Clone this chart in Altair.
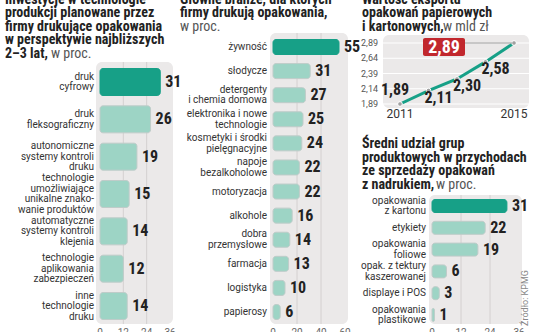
import altair as alt
import pandas as pd

FONT = "Liberation Sans Narrow, Roboto Condensed, Arial Narrow, sans-serif"
LFONT = "Roboto, Noto Sans, sans-serif"
DARK = "#17a087"
LIGHT = "#9dd4c5"
BG = "#ebe9e9"
GRID = "#d4d0d0"
TXT = "#222222"

# ---------------- data ----------------
p1_labels = [
    "druk\ncyfrowy",
    "druk\nfleksograficzny",
    "autonomiczne\nsystemy kontroli\ndruku",
    "technologie\numożliwiające\nunikalne znako-\nwanie produktów",
    "automatyczne\nsystemy kontroli\nklejenia",
    "technologie\naplikowania\nzabezpieczeń",
    "inne\ntechnologie\ndruku",
]
p1_values = [31, 26, 19, 15, 14, 12, 14]
p1_ticks = [0, 12, 24, 36]

p2_labels = [
    "żywność", "słodycze", "detergenty\ni chemia domowa", "elektronika i nowe\ntechnologie",
    "kosmetyki i środki\npielęgnacyjne", "napoje\nbezalkoholowe", "motoryzacja", "alkohole",
    "dobra\nprzemysłowe", "farmacja", "logistyka", "papierosy",
]
p2_values = [55, 31, 27, 25, 24, 22, 22, 16, 14, 13, 10, 6]
p2_ticks = [0, 20, 40, 60]

years = [2011, 2012, 2013, 2014, 2015]
export = [1.89, 2.11, 2.30, 2.58, 2.89]
export_ticks = [1.89, 2.14, 2.39, 2.64, 2.89]
year_labels = [2011, 2015]

p4_labels = [
    "opakowania\nz kartonu", "etykiety", "opakowania\nfoliowe",
    "opak. z tektury\nkaszerowanej", "displaye i POS", "opakowania\nplastikowe",
]
p4_values = [31, 22, 19, 6, 3, 1]
p4_ticks = [0, 12, 24, 36]

title1 = "Inwestycje w technologie\nprodukcji planowane przez\nfirmy drukujące opakowania\nw perspektywie najbliższych\n2–3 lat,"
title2 = "Główne branże, dla których\nfirmy drukują opakowania,"
title3 = "Wartość eksportu\nopakowań papierowych\ni kartonowych,"
title4 = "Średni udział grup\nproduktowych w przychodach\nze sprzedaży opakowań\nz nadrukiem,"
source = "Źródło: KPMG"


def fmt(v):
    return f"{v:.2f}".replace(".", ",")


def one(text):
    return pd.DataFrame({"t": [text]})


def box(l, r, t, b, fill=BG, radius=6):
    return alt.Chart(one("")).mark_rect(fill=fill, cornerRadius=radius).encode(
        x=alt.value(l), x2=alt.value(r), y=alt.value(t), y2=alt.value(b)
    )


def text_at(text, x, y, **kw):
    base = dict(font=FONT, align="left", baseline="alphabetic", color=TXT, lineBreak="\n")
    base.update(kw)
    return alt.Chart(one(text)).mark_text(**base).encode(
        x=alt.value(x), y=alt.value(y), text="t:N"
    )


LAB_LH = 10.5


def bar_panel(labels, values, ticks, xrange, yrange, bar_px, label_x, bg, tick_y):
    n = len(values)
    df = pd.DataFrame({"label": labels, "value": values, "idx": list(range(n))})
    spacing = (yrange[1] - yrange[0]) / (n - 1)
    h = bar_px / 2 / spacing
    lh = LAB_LH / spacing
    xs = alt.Scale(domain=[ticks[0], ticks[-1]], range=xrange, nice=False, zero=False)
    ys = alt.Scale(domain=[0, n - 1], range=yrange, nice=False, zero=False)
    tdf = pd.DataFrame({"t": ticks})
    layers = [box(*bg)]
    layers.append(
        alt.Chart(tdf[1:-1]).mark_rule(color=GRID, strokeWidth=1).encode(
            x=alt.X("t:Q", scale=xs, axis=None), y=alt.value(bg[2]), y2=alt.value(bg[3])
        )
    )
    layers.append(
        alt.Chart(df).transform_calculate(
            y0=f"datum.idx - {h}", y1=f"datum.idx + {h}", x0="0"
        ).mark_rect(cornerRadius=3, strokeWidth=1).encode(
            x=alt.X("x0:Q", scale=xs, axis=None),
            x2="value:Q",
            y=alt.Y("y0:Q", scale=ys, axis=None),
            y2="y1:Q",
            color=alt.condition("datum.idx == 0", alt.value(DARK), alt.value(LIGHT)),
            stroke=alt.condition("datum.idx == 0", alt.value(DARK), alt.value("#bfccc9")),
        )
    )
    layers.append(
        alt.Chart(df).transform_calculate(
            ly=f"datum.idx - (split(datum.label, '\\n').length - 1) / 2 * {lh}"
        ).mark_text(
            font=LFONT, align="right", baseline="middle", lineBreak="\n",
            lineHeight=LAB_LH, fontSize=10, color="#333333"
        ).encode(x=alt.value(label_x), y=alt.Y("ly:Q", scale=ys, axis=None), text="label:N")
    )
    layers.append(
        alt.Chart(df).mark_text(
            font=FONT, align="left", baseline="middle", dx=5, fontSize=16,
            fontWeight="bold", color=TXT
        ).encode(
            x=alt.X("value:Q", scale=xs, axis=None),
            y=alt.Y("idx:Q", scale=ys, axis=None),
            text="value:Q",
        )
    )
    layers.append(
        alt.Chart(tdf).mark_text(
            font=LFONT, align="center", baseline="top", fontSize=10, color="#666666"
        ).encode(x=alt.X("t:Q", scale=xs, axis=None), y=alt.value(tick_y), text="t:Q")
    )
    return layers


layers = []
# titles
layers.append(text_at(title1, 5, 3.5, fontSize=14, fontWeight="bold", lineHeight=13.5))
layers.append(text_at("w proc.", 51, 57.5, fontSize=14, color="#555555"))
layers.append(text_at(title2, 180, 3.5, fontSize=14, fontWeight="bold", lineHeight=13.5))
layers.append(text_at("w proc.", 180, 30.5, fontSize=14, color="#555555"))
layers.append(text_at(title3, 362, 3.5, fontSize=14, fontWeight="bold", lineHeight=13.5))
layers.append(text_at("w mld zł", 443, 30.5, fontSize=14, color="#555555"))
layers.append(text_at(title4, 362, 148, fontSize=14, fontWeight="bold", lineHeight=13.5))
layers.append(text_at("w proc.", 436, 188.5, fontSize=14, color="#555555"))

# bar panels
layers += bar_panel(p1_labels, p1_values, p1_ticks, [100, 170], [82, 306], 27, 94,
                    (96, 173, 62, 324), 328)
layers += bar_panel(p2_labels, p2_values, p2_ticks, [273, 345], [47, 312], 15, 267,
                    (270, 348, 33, 324), 328)
layers += bar_panel(p4_labels, p4_values, p4_ticks, [432, 519], [206, 315], 13, 426,
                    (429, 522, 195, 324), 328)

# line chart
lx = alt.Scale(domain=[years[0], years[-1]], range=[400, 514], nice=False, zero=False)
ly = alt.Scale(domain=[export_ticks[0], export_ticks[-1]], range=[104, 43], nice=False, zero=False)
ldf = pd.DataFrame({"year": years, "v": export, "lab": [fmt(v) for v in export]})
gdf = pd.DataFrame({"t": export_ticks, "lab": [fmt(v) for v in export_ticks]})
layers.append(box(383, 529, 35, 108))
layers.append(
    alt.Chart(gdf).mark_rule(color="#ffffff", strokeWidth=1).encode(
        x=alt.value(383), x2=alt.value(529), y=alt.Y("t:Q", scale=ly, axis=None)
    )
)
layers.append(
    alt.Chart(gdf).mark_text(font=LFONT, align="right", baseline="middle", fontSize=9,
                             color="#555555").encode(
        x=alt.value(378), y=alt.Y("t:Q", scale=ly, axis=None), text="lab:N"
    )
)
layers.append(
    alt.Chart(pd.DataFrame({"year": year_labels})).mark_text(
        font=LFONT, align="center", baseline="middle", fontSize=12, color="#333333"
    ).encode(x=alt.X("year:Q", scale=lx, axis=None), y=alt.value(114), text="year:N")
)
layers.append(
    alt.Chart(ldf).mark_line(color=DARK, strokeWidth=3).encode(
        x=alt.X("year:Q", scale=lx, axis=None), y=alt.Y("v:Q", scale=ly, axis=None)
    )
)
layers.append(
    alt.Chart(ldf).mark_circle(size=22, color="#a0a0a0", stroke="white", strokeWidth=1,
                               opacity=1).encode(
        x=alt.X("year:Q", scale=lx, axis=None), y=alt.Y("v:Q", scale=ly, axis=None)
    )
)
layers.append(
    alt.Chart(ldf.iloc[:1]).mark_text(font=FONT, align="center", baseline="middle", dx=-5,
                                      dy=-14, fontSize=16, fontWeight="bold",
                                      color=TXT).encode(
        x=alt.X("year:Q", scale=lx, axis=None), y=alt.Y("v:Q", scale=ly, axis=None),
        text="lab:N"
    )
)
layers.append(
    alt.Chart(ldf.iloc[1:-1]).mark_text(font=FONT, align="center", baseline="middle", dx=10,
                                        dy=7, fontSize=16, fontWeight="bold",
                                        color=TXT).encode(
        x=alt.X("year:Q", scale=lx, axis=None), y=alt.Y("v:Q", scale=ly, axis=None),
        text="lab:N"
    )
)
# highlighted last value
layers.append(
    alt.Chart(one("")).mark_rule(color="#9a9a9a", strokeWidth=1).encode(
        x=alt.value(465), x2=alt.value(512), y=alt.value(43)
    )
)
layers.append(box(423, 465, 38, 56, fill="#c1272d", radius=2))
layers.append(text_at(fmt(export[-1]), 444, 47.5, align="center", baseline="middle",
                      fontSize=18, fontWeight="bold", color="#ffffff"))

# source
layers.append(text_at(source, 525, 298, align="center", baseline="middle", angle=270,
                      fontSize=9, color="#888888", font=LFONT))

chart = alt.layer(*layers).resolve_scale(
    x="independent", y="independent", color="independent", stroke="independent"
).properties(
    width=536, height=332, autosize=alt.AutoSizeParams(type="none"), padding=0
).configure_view(stroke=None)

chart.save("out.html", embed_options={"renderer": "svg", "actions": False})
